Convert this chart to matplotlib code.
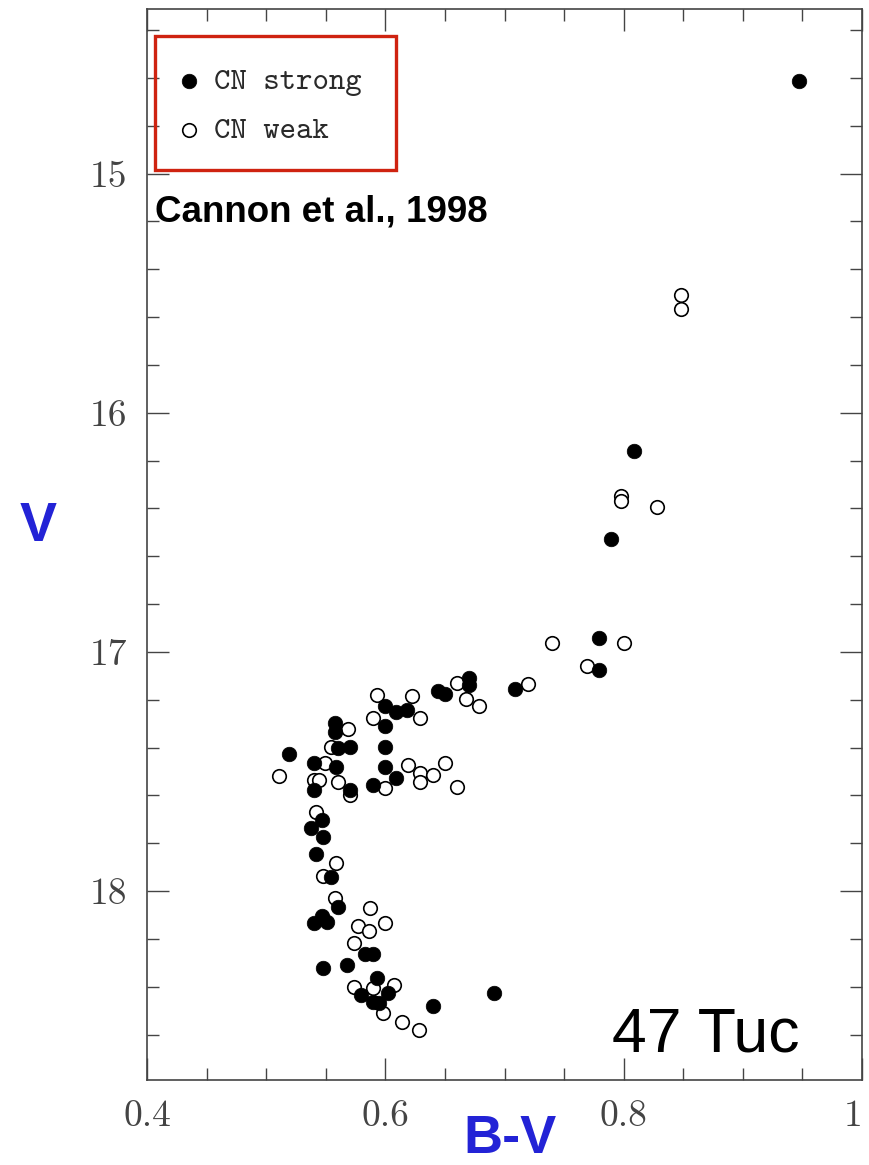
import matplotlib
matplotlib.use("Agg")
import matplotlib.pyplot as plt
from matplotlib.patches import Rectangle
from matplotlib.ticker import MultipleLocator

# CN strong stars (filled)
strong_bv = [0.947, 0.809, 0.789, 0.779, 0.779, 0.709, 0.670, 0.670, 0.644, 0.650,
             0.600, 0.609, 0.618, 0.600, 0.558, 0.558, 0.600, 0.519, 0.560, 0.570,
             0.540, 0.559, 0.600, 0.609, 0.590, 0.540, 0.570, 0.547, 0.538, 0.548,
             0.542, 0.554, 0.560, 0.540, 0.547, 0.551, 0.583, 0.590, 0.548, 0.568,
             0.593, 0.580, 0.590, 0.595, 0.602, 0.640, 0.691]
strong_v = [14.614, 16.159, 16.528, 16.943, 17.075, 17.155, 17.110, 17.138, 17.162, 17.176,
            17.226, 17.250, 17.243, 17.310, 17.298, 17.334, 17.396, 17.427, 17.403, 17.396,
            17.466, 17.480, 17.480, 17.528, 17.556, 17.577, 17.577, 17.703, 17.738, 17.773,
            17.845, 17.940, 18.066, 18.133, 18.105, 18.128, 18.264, 18.264, 18.323, 18.310,
            18.365, 18.435, 18.463, 18.470, 18.428, 18.481, 18.428]

# CN weak stars (open)
weak_bv = [0.848, 0.848, 0.798, 0.798, 0.828, 0.740, 0.800, 0.769, 0.720, 0.660,
           0.668, 0.679, 0.593, 0.622, 0.590, 0.629, 0.569, 0.554, 0.549, 0.511,
           0.540, 0.544, 0.560, 0.570, 0.600, 0.619, 0.629, 0.629, 0.640, 0.650,
           0.660, 0.542, 0.559, 0.548, 0.558, 0.587, 0.577, 0.586, 0.600, 0.574,
           0.574, 0.590, 0.607, 0.598, 0.614, 0.628]
weak_v = [15.506, 15.566, 16.350, 16.371, 16.395, 16.964, 16.964, 17.061, 17.135, 17.131,
          17.198, 17.226, 17.180, 17.184, 17.277, 17.277, 17.323, 17.399, 17.463, 17.519,
          17.536, 17.536, 17.543, 17.598, 17.570, 17.473, 17.508, 17.543, 17.515, 17.463,
          17.564, 17.668, 17.882, 17.937, 18.031, 18.072, 18.146, 18.166, 18.133, 18.219,
          18.400, 18.407, 18.393, 18.509, 18.547, 18.582]

x_ticks = [0.4, 0.6, 0.8, 1.0]
x_labels = ["0.4", "0.6", "0.8", "1"]
y_ticks = [15, 16, 17, 18]

W, H = 869, 1165
fig = plt.figure(figsize=(W / 100, H / 100), dpi=100)
ax = fig.add_axes([147 / W, 1 - 1080 / H, (862 - 147) / W, (1080 - 8.5) / H])

ax.scatter(strong_bv, strong_v, s=110, c="black", edgecolors="black", linewidths=0.5,
           label="CN strong", zorder=3)
ax.scatter(weak_bv, weak_v, s=95, facecolors="white", edgecolors="black", linewidths=1.2,
           label="CN weak", zorder=2)

ax.set_xlim(0.4, 1.0)
ax.set_ylim(18.79, 14.31)

tick_font = {"family": "cmr10", "size": 27, "color": "#444444"}
ax.set_xticks(x_ticks)
ax.set_xticklabels(x_labels, fontdict=tick_font)
# the last label sits at the figure edge, keep it inside
ax.get_xticklabels()[-1].set_horizontalalignment("right")
ax.set_yticks(y_ticks)
ax.set_yticklabels([str(v) for v in y_ticks], fontdict=tick_font)
ax.xaxis.set_minor_locator(MultipleLocator(0.05))
ax.yaxis.set_minor_locator(MultipleLocator(0.2))
ax.tick_params(which="both", direction="in", top=True, right=True, color="#444444", width=1.0)
ax.tick_params(which="major", length=16, pad=14)
ax.tick_params(which="minor", length=8.5)
for sp in ax.spines.values():
    sp.set_color("#444444")
    sp.set_linewidth(1.2)

# legend with red frame
fig.patches.append(Rectangle((155 / W, 1 - 169.5 / H), 241 / W, 133.5 / H,
                             transform=fig.transFigure, fill=False,
                             edgecolor="#cf2310", linewidth=2.4, zorder=5))
leg = ax.legend(loc="center left", bbox_to_anchor=(180 / W, 1 - 106 / H),
                bbox_transform=fig.transFigure, frameon=False, borderpad=0,
                borderaxespad=0, handlelength=0.6, handletextpad=0.5,
                labelspacing=0.65, markerscale=1.0,
                prop={"family": "cmtt10", "size": 22.5})
for t in leg.get_texts():
    t.set_color("#2a2a2a")

fig.text(155 / W, 1 - 222 / H, "Cannon et al., 1998", fontsize=26.5, fontweight="bold",
         family="Liberation Sans", va="baseline", ha="left")
fig.text(612 / W, 1 - 1051.5 / H, "47 Tuc", fontsize=45, family="Liberation Sans",
         va="baseline", ha="left")
fig.text(38 / W, 1 - 527.5 / H, "V", fontsize=40, fontweight="bold", color="#2323d6",
         family="Liberation Sans", va="center", ha="center")
fig.text(510 / W, 1 - 1139 / H, "B-V", fontsize=39, fontweight="bold", color="#2323d6",
         family="Liberation Sans", va="center", ha="center")

fig.savefig("out.png", dpi=100)
